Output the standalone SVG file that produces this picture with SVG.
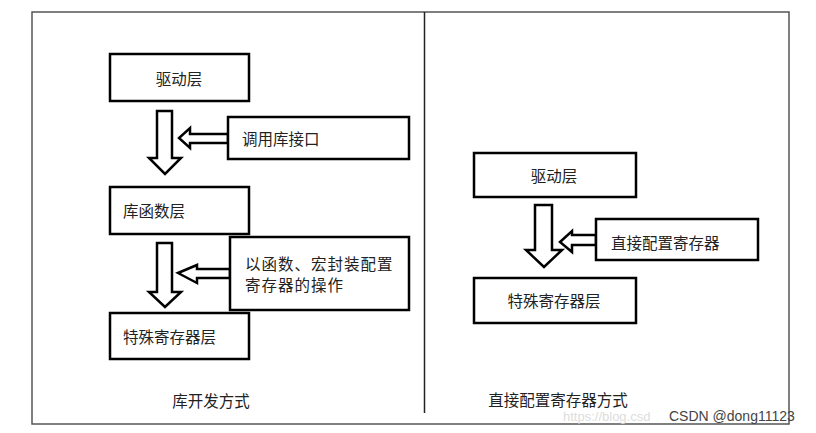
<svg xmlns="http://www.w3.org/2000/svg" width="816" height="433" viewBox="0 0 816 433">
<style>
.box{fill:#fff;stroke:#000;stroke-width:2.5}
.arr{fill:#fff;stroke:#000;stroke-width:2.5;stroke-linejoin:miter}
.t{font-family:"Noto Sans CJK SC","Noto Sans",sans-serif;font-size:15.5px;fill:#222;dominant-baseline:central}
.frame{fill:none;stroke:#555;stroke-width:1.5}
</style>
<rect width="816" height="433" fill="#fff"/>
<rect class="frame" x="32" y="12" width="757" height="412"/>
<line x1="424.5" y1="12" x2="424.5" y2="413" stroke="#222" stroke-width="1.5"/>
<g id="connectors">
<polygon class="arr" points="157,111 172,111 172,158 181,158 165,174 149,158 157,158"/>
<polygon class="arr" points="228,134 190,134 190,128 179,138 190,148 190,143 228,143"/>
<polygon class="arr" points="157,243 172,243 172,292 181,292 165,307 149,292 157,292"/>
<polygon class="arr" points="230,269 197,269 197,265 178,273 197,283 197,278 230,278"/>
<polygon class="arr" points="535,205 552,205 552,250 562,250 544,267 526,250 535,250"/>
<polygon class="arr" points="596,235 572,235 572,231 560,242 572,252 572,245 596,245"/>
</g>
<g id="L_drv"><rect class="box" x="110" y="54" width="139" height="47"/><text class="t" x="179" y="78" text-anchor="middle">驱动层</text></g>
<g id="L_call"><rect class="box" x="228" y="117" width="181" height="42"/><text class="t" x="242" y="138">调用库接口</text></g>
<g id="L_lib"><rect class="box" x="110" y="187" width="139" height="47"/><text class="t" x="123" y="210">库函数层</text></g>
<g id="L_wrap"><rect class="box" x="230" y="237" width="179" height="73"/><text class="t" x="245" y="263" style="letter-spacing:1px">以函数、宏封装配置</text><text class="t" x="245" y="284" style="letter-spacing:1px">寄存器的操作</text></g>
<g id="L_sfr"><rect class="box" x="110" y="313" width="139" height="46"/><text class="t" x="123" y="336">特殊寄存器层</text></g>
<g id="L_title"><text class="t" x="211" y="400" text-anchor="middle">库开发方式</text></g>
<g id="R_drv"><rect class="box" x="474" y="153" width="162" height="44"/><text class="t" x="554" y="175" text-anchor="middle">驱动层</text></g>
<g id="R_direct"><rect class="box" x="596" y="219" width="162" height="41"/><text class="t" x="611" y="242">直接配置寄存器</text></g>
<g id="R_sfr"><rect class="box" x="474" y="278" width="162" height="45"/><text class="t" x="554" y="300" text-anchor="middle">特殊寄存器层</text></g>
<g id="R_title"><text class="t" x="558" y="399" text-anchor="middle">直接配置寄存器方式</text></g>
<text x="563" y="421" font-family="Liberation Sans, sans-serif" font-size="13" fill="#ddd">https://blog.csd</text>
<text x="669" y="421" font-family="Liberation Sans, sans-serif" font-size="14" fill="#444">CSDN @dong11123</text>
</svg>
